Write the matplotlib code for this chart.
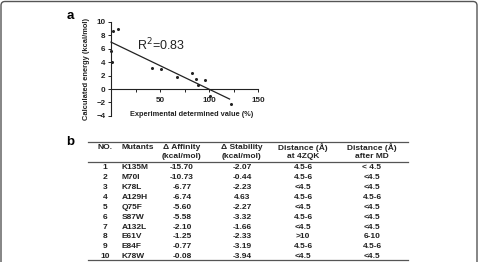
import matplotlib
matplotlib.use("Agg")
import matplotlib.pyplot as plt
from matplotlib.patches import FancyBboxPatch

plt.rcParams['font.family'] = ['Liberation Sans', 'DejaVu Sans']

# panel a: scatter data
exp_value = [0.5, 1.5, 2, 7.5, 41.5, 51, 67, 83, 87, 89, 96, 101, 122]
calc_energy = [5.6, 4.1, 8.7, 9.0, 3.2, 3.0, 1.8, 2.4, 1.5, 0.6, 1.3, -1.1, -2.2]
fit_x = [0, 121]
fit_y = [7.0, -1.5]
r2_text = "R$^2$=0.83"

# panel b: table data
headers = [["NO.", "Mutants", "\u0394 Affinity", "\u0394 Stability", "Distance (\u00c5)", "Distance (\u00c5)"],
           ["", "", "(kcal/mol)", "(kcal/mol)", "at 4ZQK", "after MD"]]
row_no = ["1", "2", "3", "4", "5", "6", "7", "8", "9", "10"]
mutants = ["K135M", "M70I", "K78L", "A129H", "Q75F", "S87W", "A132L", "E61V", "E84F", "K78W"]
affinity = ["-15.70", "-10.73", "-6.77", "-6.74", "-5.60", "-5.58", "-2.10", "-1.25", "-0.77", "-0.08"]
stability = ["-2.07", "-0.44", "-2.23", "4.63", "-2.27", "-3.32", "-1.66", "-2.33", "-3.19", "-3.94"]
dist_4zqk = ["4.5-6", "4.5-6", "<4.5", "4.5-6", "<4.5", "4.5-6", "<4.5", ">10", "4.5-6", "<4.5"]
dist_md = ["< 4.5", "<4.5", "<4.5", "4.5-6", "<4.5", "<4.5", "<4.5", "6-10", "4.5-6", "<4.5"]

W, H = 479, 262
fig = plt.figure(figsize=(W / 100, H / 100), dpi=100)

# background axes in pixel coordinates
bg = fig.add_axes([0, 0, 1, 1])
bg.set_xlim(0, W)
bg.set_ylim(H, 0)
bg.axis("off")
bg.add_patch(FancyBboxPatch((1, 1.5), 476, 300, boxstyle="round,pad=0,rounding_size=4",
                            fill=False, ec="#555555", lw=1))

bg.text(70, 16, "a", fontsize=9.5, fontweight="bold", ha="center", va="center")
bg.text(70, 142, "b", fontsize=9.5, fontweight="bold", ha="center", va="center")

# scatter axes
x0, x1 = 111, 258
ytop, ybot = 22, 115.8
ax = fig.add_axes([x0 / W, 1 - ybot / H, (x1 - x0) / W, (ybot - ytop) / H])
ax.set_xlim(0, 150)
ax.set_ylim(-4, 10)
ax.patch.set_alpha(0)
for s in ["top", "right"]:
    ax.spines[s].set_visible(False)
ax.spines["bottom"].set_position(("data", 0))
for s in ["left", "bottom"]:
    ax.spines[s].set_linewidth(0.8)
    ax.spines[s].set_color("#222222")
ax.set_yticks(range(-4, 11, 2))
ax.set_xticks([25, 50, 75, 100, 125, 150])
ax.set_xticklabels(["", "50", "", "100", "", "150"])
ax.tick_params(axis="both", labelsize=5.8, length=2.5, width=0.7, pad=1.5, colors="#222222")
ax.tick_params(axis="x", pad=3)
for lab in ax.get_xticklabels() + ax.get_yticklabels():
    lab.set_fontweight("bold")

ax.plot(exp_value, calc_energy, "o", ms=1.2, color="#222222", clip_on=False)
ax.plot(fit_x, fit_y, color="#222222", lw=0.9, clip_on=False)
ax.text(27, 6.5, r2_text, fontsize=9, color="#222222", ha="left", va="center")

bg.text(192, 115, "Experimental determined value (%)", fontsize=5.3, fontweight="bold",
        ha="center", va="center", color="#222222")
bg.text(87, 69, "Calculated energy (kcal/mol)", fontsize=5.4, fontweight="bold",
        ha="center", va="center", rotation=90, color="#222222")

# table
col_x = [105, 122, 182, 242, 303, 372]
col_ha = ["center", "left", "center", "center", "center", "center"]
tab_left, tab_right = 88, 408
bg.plot([tab_left, tab_right], [142, 142], color="#555555", lw=0.9)
bg.plot([tab_left, tab_right], [162, 162], color="#555555", lw=0.9)
bg.plot([tab_left, tab_right], [260, 260], color="#555555", lw=0.9)

fs = 6.0
for r, y in zip(headers, [147.5, 156.5]):
    for txt, x, ha in zip(r, col_x, col_ha):
        bg.text(x, y, txt, fontsize=fs, fontweight="bold", ha=ha, va="center", color="#222222")

columns = [row_no, mutants, affinity, stability, dist_4zqk, dist_md]
for i in range(len(row_no)):
    y = 167.7 + i * 9.9
    for col, x, ha in zip(columns, col_x, col_ha):
        bg.text(x, y, col[i], fontsize=fs, fontweight="bold", ha=ha, va="center", color="#222222")

fig.savefig("out.png", dpi=100)
